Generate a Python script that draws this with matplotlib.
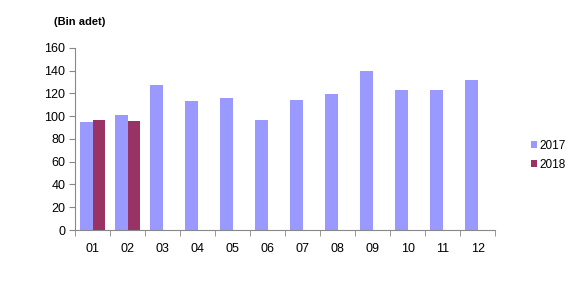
import matplotlib.pyplot as plt
import numpy as np

plt.rcParams['font.family'] = ['Liberation Sans', 'DejaVu Sans']

months = ['01', '02', '03', '04', '05', '06', '07', '08', '09', '10', '11', '12']
sales_2017 = [95, 101, 127.5, 113.5, 116, 96.7, 114.4, 119.6, 139.8, 123, 123, 132]
sales_2018 = [96.7, 95.8]

fig = plt.figure(figsize=(5.86, 2.87), dpi=100)
ax = fig.add_axes([0.128, 0.1986, 0.717, 0.6342])

x = np.arange(len(months))
w = 0.37
ax.bar(x - w / 2, sales_2017, w, color='#9999FF', label='2017')
ax.bar(np.arange(len(sales_2018)) + w / 2, sales_2018, w, color='#993366', label='2018')

ax.set_xlim(-0.5, len(months) - 0.5)
ax.set_ylim(0, 160)
ax.set_yticks(range(0, 161, 20))
ax.set_xticks(x)
ax.set_xticklabels(months)
ax.set_xticks(np.arange(-0.5, len(months)), minor=True)
ax.tick_params(axis='x', which='major', length=0, pad=9, labelsize=9)
ax.tick_params(axis='x', which='minor', length=4, color='#888888', direction='out')
ax.tick_params(axis='y', length=4, color='#888888', labelsize=9, pad=3)

for s in ['top', 'right']:
    ax.spines[s].set_visible(False)
for s in ['left', 'bottom']:
    ax.spines[s].set_color('#888888')

fig.text(0.092, 0.923, '(Bin adet)', fontsize=8, fontweight='bold', ha='left', va='center')

ax.legend(loc='center left', bbox_to_anchor=(1.06, 0.41), frameon=False, fontsize=8.5,
          handlelength=0.5, handleheight=0.5, handletextpad=0.2, labelspacing=0.6)

fig.savefig('out.png', dpi=100)
